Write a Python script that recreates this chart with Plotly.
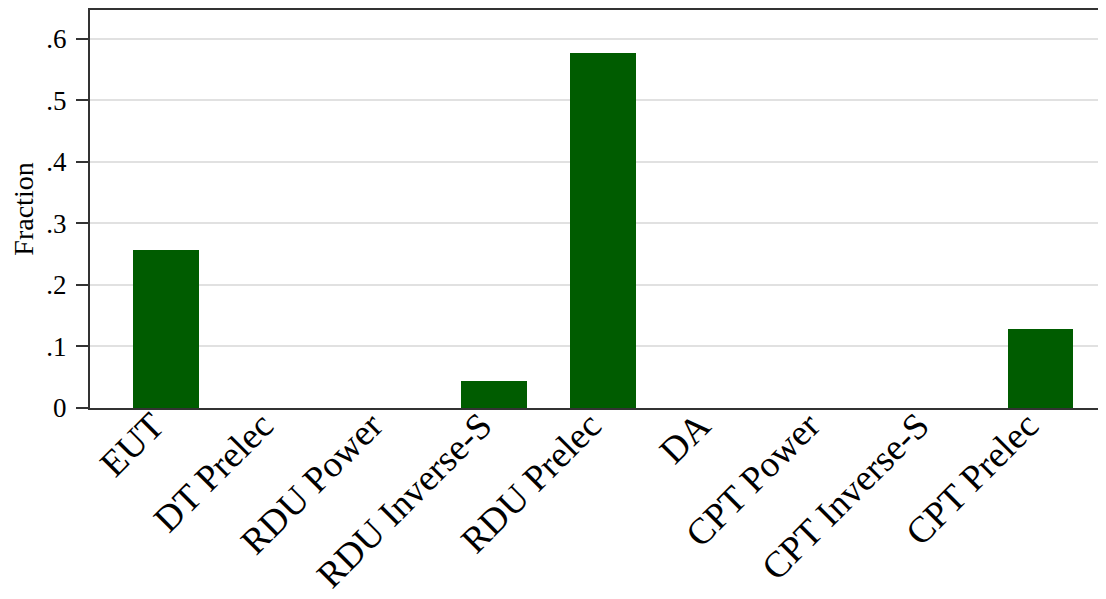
import plotly.graph_objects as go

models = ["EUT", "DT Prelec", "RDU Power", "RDU Inverse-S", "RDU Prelec",
          "DA", "CPT Power", "CPT Inverse-S", "CPT Prelec"]
fraction = [0.257, 0, 0, 0.044, 0.576, 0, 0, 0, 0.128]

y_tickvals = [0, 0.1, 0.2, 0.3, 0.4, 0.5, 0.6]
y_ticktext = ["0", ".1", ".2", ".3", ".4", ".5", ".6"]

serif = "Liberation Serif"

fig = go.Figure()
fig.add_trace(go.Bar(
    x=list(range(len(models))), y=fraction,
    width=0.6,
    marker=dict(color="#005c00", line=dict(width=0)),
    showlegend=False,
))

# the page body has an 8px margin, so the figure is a bit smaller than the window
fig.update_layout(
    width=1098, height=591,
    paper_bgcolor="white",
    plot_bgcolor="white",
    font=dict(family=serif, color="black"),
    margin=dict(l=82, r=0, t=2, b=191, autoexpand=False),
    bargap=0,
)

fig.update_xaxes(
    range=[-0.696, 8.6],
    tickmode="array",
    tickvals=list(range(len(models))),
    ticktext=models,
    tickangle=-45,
    tickfont=dict(size=37, family=serif),
    ticklabelstandoff=-21,
    ticklabelshift=-13,
    showgrid=False,
    showline=True, linecolor="#333", linewidth=2, mirror=True,
    ticks="", zeroline=False, automargin=False,
)
fig.update_yaxes(
    range=[0, 0.6466],
    tickmode="array",
    tickvals=y_tickvals,
    ticktext=y_ticktext,
    tickfont=dict(size=27, family=serif),
    ticklabelstandoff=4,
    ticks="outside", ticklen=12, tickcolor="#333", tickwidth=1.5,
    showgrid=True, gridcolor="#e1e1e1", gridwidth=2,
    showline=True, linecolor="#333", linewidth=2,
    zeroline=False, automargin=False,
    title=dict(text="Fraction", font=dict(size=28, family=serif), standoff=8),
)

fig.write_html("out.html")
